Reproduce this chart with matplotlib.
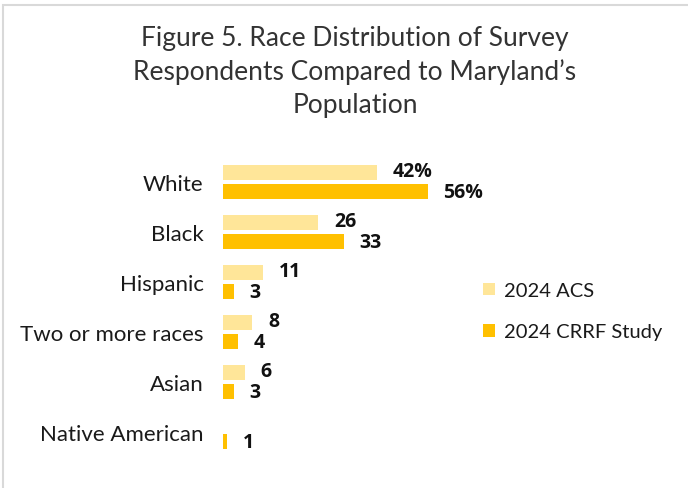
import matplotlib.pyplot as plt
import numpy as np
from matplotlib.patches import Rectangle

categories = ["White", "Black", "Hispanic", "Two or more races", "Asian", "Native American"]
acs = [42, 26, 11, 8, 6, 0]
crrf = [56, 33, 3, 4, 3, 1]
acs_labels = ["42%", "26", "11", "8", "6", ""]
crrf_labels = ["56%", "33", "3", "4", "3", "1"]

c_acs = "#FFE699"
c_crrf = "#FFC000"

W, H = 688, 489
fig = plt.figure(figsize=(W / 100, H / 100), dpi=100)

# light grey frame of the chart area
fig.patches.append(Rectangle((3 / W, -0.1), 1.2, 1 - 6 / H + 0.1, transform=fig.transFigure,
                             fill=False, edgecolor="#d9d9d9", linewidth=1.5))

ax = fig.add_axes([223 / W, 31 / H, 256 / W, 300 / H])
y = np.arange(len(categories))
h = 0.3
off = 0.19
ax.barh(y - off, acs, height=h, color=c_acs, label="2024 ACS")
ax.barh(y + off, crrf, height=h, color=c_crrf, label="2024 CRRF Study")

for i in range(len(categories)):
    if acs_labels[i]:
        ax.text(acs[i] + 4.3, y[i] - off - 0.02, acs_labels[i], va="center", ha="left",
                fontsize=14, fontweight="bold", family="Open Sans", color="#111111")
    ax.text(crrf[i] + 4.3, y[i] + off + 0.02, crrf_labels[i], va="center", ha="left",
            fontsize=14, fontweight="bold", family="Open Sans", color="#111111")

ax.set_xlim(0, 70)
ax.set_ylim(5.5, -0.5)
ax.set_yticks(y)
ax.set_yticklabels(categories, fontsize=16, family="Lato", color="#1a1a1a")
ax.tick_params(axis="y", length=0, pad=14)
ax.set_xticks([])
for s in ax.spines.values():
    s.set_visible(False)

leg = fig.legend(loc="upper left", bbox_to_anchor=(465 / W, 1 - 265 / H), frameon=False,
                 prop={"family": "Lato", "size": 14.5}, handlelength=0.6, handleheight=0.6,
                 handletextpad=0.45, labelspacing=1.2)
for t in leg.get_texts():
    t.set_color("#1a1a1a")

fig.text(355 / W, 1 - 26 / H, "Figure 5. Race Distribution of Survey\nRespondents Compared to Maryland\u2019s\nPopulation",
         ha="center", va="top", fontsize=19, family="Lato",
         color="#333333", linespacing=1.4)

fig.savefig("out.png", dpi=100)
